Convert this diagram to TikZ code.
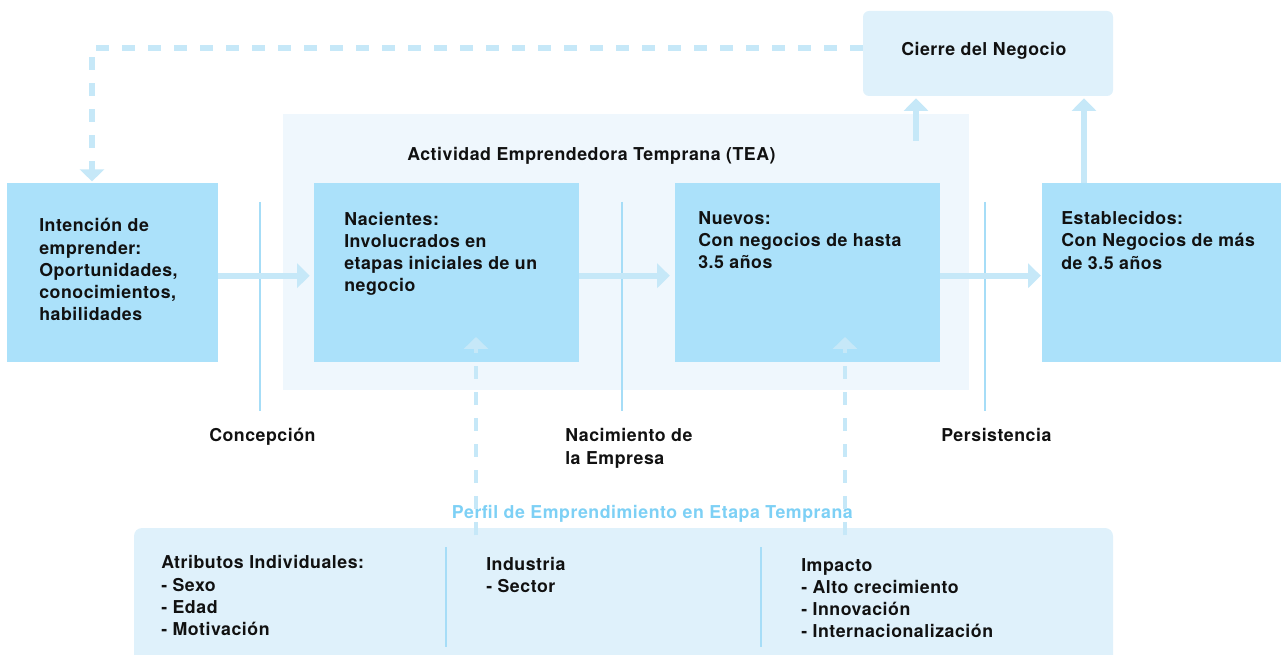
\documentclass[tikz,border=0pt]{standalone}
\usepackage{fontspec}
\setmainfont{TeX Gyre Heros}[LetterSpace=3]
\usetikzlibrary{arrows.meta,fit}
\definecolor{boxblue}{HTML}{ABE1FA}
\definecolor{paleblue}{HTML}{DFF1FB}
\definecolor{teabg}{HTML}{EFF7FD}
\definecolor{arrowblue}{HTML}{C6E8F8}
\definecolor{lineblue}{HTML}{A6DDF7}
\definecolor{perfilblue}{HTML}{7DD0F5}
\definecolor{inkblack}{HTML}{111111}
\tikzset{
  box/.style={fill=boxblue, draw=none, inner sep=0pt},
  palebox/.style={fill=paleblue, draw=none, inner sep=0pt, rounded corners=4.5pt},
  txt/.style={font=\bfseries\fontsize{13.3}{16.7}\selectfont, align=left, inner sep=0pt, anchor=north west, text=inkblack},
  flow/.style={draw=arrowblue, line width=4.5pt, -{Triangle[width=18pt,length=9.5pt]}},
  dflow/.style={draw=arrowblue, line width=3.6pt, dash pattern=on 9.75pt off 9.75pt, -{Triangle[width=18pt,length=9pt]}},
  divider/.style={draw=lineblue, line width=2.2pt},
}
\begin{document}
\begin{tikzpicture}[x=0.75pt,y=-0.75pt]
\useasboundingbox (0,0) rectangle (1281,655);
% background panels
\node[fit={(283,114)(969,390)}, fill=teabg, draw=none, inner sep=0pt] (tea) {};
\node[fit={(863,11)(1113,96)}, palebox] (cierre) {};
\node[fit={(134,528)(1113,690)}, palebox, rounded corners=6pt] (perfil) {};
% stage boxes
\node[fit={(7,183)(218,362)}, box] (int) {};
\node[fit={(314,183)(579,362)}, box] (nac) {};
\node[fit={(675,183)(940,362)}, box] (nue) {};
\node[fit={(1042,183)(1290,362)}, box] (est) {};
% dividers
\draw[divider] (260,202) -- (260,411.5);
\draw[divider] (622,202) -- (622,411.5);
\draw[divider] (985,202) -- (985,411.5);
\draw[divider] (446,547) -- (446,647);
\draw[divider] (761,547) -- (761,647);
% horizontal flow arrows
\draw[flow, shorten >=3pt] ([yshift=-2.4pt]int.east) -- ([yshift=-2.4pt]nac.west);
\draw[flow, shorten >=3.7pt] ([yshift=-2.4pt]nac.east) -- ([yshift=-2.4pt]nue.west);
\draw[flow, shorten >=0.7pt] ([yshift=-2.4pt]nue.east) -- ([yshift=-2.4pt]est.west);
% arrows to closure
\coordinate (teaout) at (916,141);
\draw[flow, shorten >=1.5pt] (teaout) -- (teaout |- cierre.south);
\draw[flow, shorten >=1.5pt] (est.north -| 1084,0) -- (cierre.south -| 1084,0);
% feedback dashed arrow
\coordinate (fbcorner) at (92,48);
\draw[dflow, line width=3.9pt, line join=miter, shorten >=1pt] (cierre.west |- fbcorner) -- (fbcorner) -- (fbcorner |- int.north);
% texts
\node[txt] (cierreT) at (901,41.7) {Cierre del Negocio};
\node[txt] (teaT) at (407,147) {Actividad Emprendedora Temprana (TEA)};
\node[txt] (intT) at (39,218.3) {Intención de\\emprender:\\Oportunidades,\\conocimientos,\\habilidades};
\node[txt] (nacT) at (344,211.7) {Nacientes:\\Involucrados en\\etapas iniciales de un\\negocio};
\node[txt] (nueT) at (698,211) {Nuevos:\\Con negocios de hasta\\3.5 años};
\node[txt] (estT) at (1061,211) {Establecidos:\\Con Negocios de más\\de 3.5 años};
\node[txt] (concT) at (209,428.3) {Concepción};
\node[txt] (nacimT) at (565,428.3) {Nacimiento de\\la Empresa};
\node[txt] (persT) at (941,428.3) {Persistencia};
\node[txt, text=perfilblue] (perfilT) at (451.7,505) {Perfil de Emprendimiento en Etapa Temprana};
\node[txt] (atrT) at (161,555.5) {Atributos Individuales:\\- Sexo\\- Edad\\- Motivación};
\node[txt] (indT) at (486,557) {Industria\\- Sector};
\node[txt] (impT) at (801,558) {Impacto\\- Alto crecimiento\\- Innovación\\- Internacionalización};
% dashed profile arrows
\coordinate (d1s) at (476,535);
\coordinate (d2s) at (845,535);
\draw[dflow] (d1s) -- (d1s |- 0,337);
\draw[dflow] (d2s) -- (d2s |- 0,337);
\end{tikzpicture}
\end{document}
